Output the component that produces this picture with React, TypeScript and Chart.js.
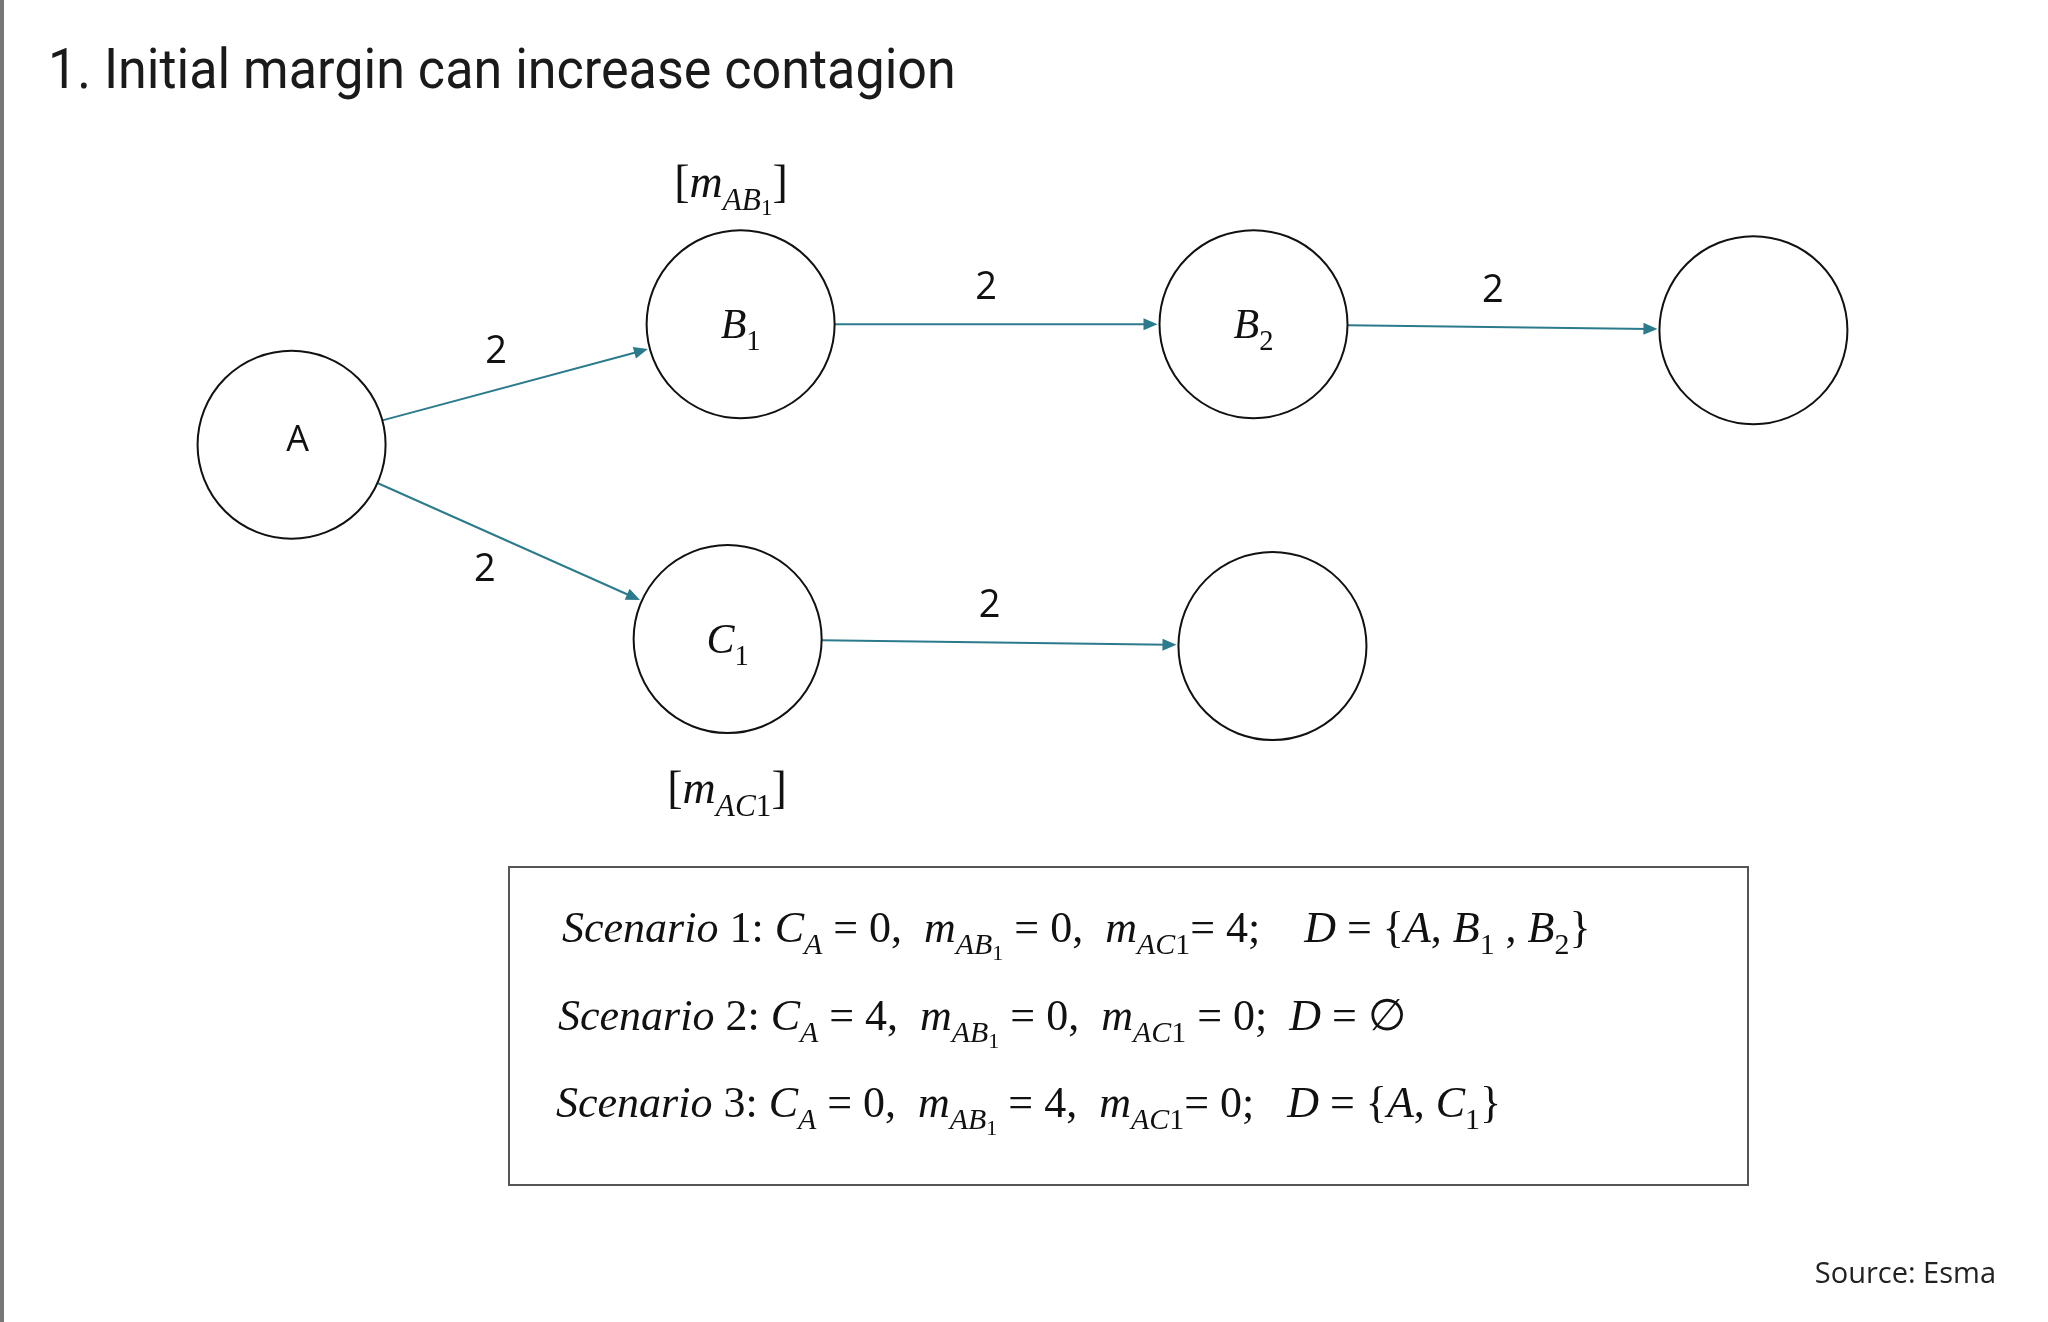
import React, { useEffect, useRef } from "react";
import { Chart, registerables } from "chart.js";
Chart.register(...registerables);

const nodeNames = ["A", "B1", "B2", "B3", "C1", "C2"];
const nodeX = [290, 740, 1254, 1755, 727, 1273];
const nodeY = [444, 323, 323, 329, 639, 646];
const nodeLabels = ["A", "B|1", "B|2", "", "C|1", ""];
const edgeFrom = [0, 1, 2, 0, 4];
const edgeTo = [1, 2, 3, 4, 5];
const edgeValues = ["2", "2", "2", "2", "2"];
const edgeSide = [1, 1, 1, -1, 1];
const title = "1. Initial margin can increase contagion";
const source = "Source: Esma";

type Seg = { t: string; l?: number; it?: boolean };
const I = (t: string, l = 0): Seg => ({ t, l, it: true });
const U = (t: string, l = 0): Seg => ({ t, l, it: false });
const scenarios: Seg[][] = [
  [I("Scenario "), U("1: "), I("C"), I("A", 1), U(" = 0,  "), I("m"), I("AB", 1), U("1", 2), U(" = 0,  "), I("m"), I("AC", 1), U("1", 1), U("= 4;    "), I("D"), U(" = {"), I("A"), U(", "), I("B"), U("1", 1), U(" , "), I("B"), U("2", 1), U("}")],
  [I("Scenario "), U("2: "), I("C"), I("A", 1), U(" = 4,  "), I("m"), I("AB", 1), U("1", 2), U(" = 0,  "), I("m"), I("AC", 1), U("1", 1), U(" = 0;  "), I("D"), U(" = ∅")],
  [I("Scenario "), U("3: "), I("C"), I("A", 1), U(" = 0,  "), I("m"), I("AB", 1), U("1", 2), U(" = 4,  "), I("m"), I("AC", 1), U("1", 1), U("= 0;   "), I("D"), U(" = {"), I("A"), U(", "), I("C"), U("1", 1), U("}")],
];
const marginTop: Seg[] = [U("["), I("m"), I("AB", 1), U("1", 2), U("]")];
const marginBottom: Seg[] = [U("["), I("m"), I("AC", 1), U("1", 1), U("]")];

const SERIF = '"Liberation Serif", "DejaVu Serif", serif';

function rich(ctx: CanvasRenderingContext2D, segs: Seg[], x: number, y: number, size: number, align: "left" | "center" = "left") {
  const sizes = [size, size * 0.68, size * 0.5];
  const offs = [0, size * 0.28, size * 0.4];
  let w = 0;
  for (const s of segs) {
    ctx.font = `${s.it ? "italic " : ""}${sizes[s.l || 0]}px ${SERIF}`;
    w += ctx.measureText(s.t).width;
  }
  let cx = align === "center" ? x - w / 2 : x;
  ctx.textAlign = "left";
  ctx.textBaseline = "alphabetic";
  for (const s of segs) {
    ctx.font = `${s.it ? "italic " : ""}${sizes[s.l || 0]}px ${SERIF}`;
    ctx.fillText(s.t, cx, y + offs[s.l || 0]);
    cx += ctx.measureText(s.t).width;
  }
}

export default function App() {
  const ref = useRef<HTMLCanvasElement>(null);
  useEffect(() => {
    document.body.style.margin = "0";
    const R = 94;
    const plugin = {
      id: "diagram",
      beforeDatasetsDraw(chart: any) {
        const ctx: CanvasRenderingContext2D = chart.ctx;
        const xs = chart.scales.x, ys = chart.scales.y;
        ctx.save();
        ctx.fillStyle = "#fff";
        ctx.fillRect(0, 0, chart.width, chart.height);
        ctx.fillStyle = "#777";
        ctx.fillRect(0, 0, 4, chart.height);
        ctx.fillStyle = "#1a1a1a";
        ctx.font = '56px Roboto';
        ctx.textAlign = "left";
        ctx.textBaseline = "alphabetic";
        ctx.save();
        ctx.translate(48, 88);
        ctx.scale(0.93, 1);
        ctx.fillText(title, 0, 0);
        ctx.restore();
        for (let i = 0; i < edgeFrom.length; i++) {
          const a = edgeFrom[i], b = edgeTo[i];
          const x1 = xs.getPixelForValue(nodeX[a]), y1 = ys.getPixelForValue(nodeY[a]);
          const x2 = xs.getPixelForValue(nodeX[b]), y2 = ys.getPixelForValue(nodeY[b]);
          const dx = x2 - x1, dy = y2 - y1, L = Math.hypot(dx, dy);
          const ux = dx / L, uy = dy / L;
          const sx = x1 + ux * R, sy = y1 + uy * R, ex = x2 - ux * (R + 2), ey = y2 - uy * (R + 2);
          ctx.strokeStyle = "#2b7b8c";
          ctx.fillStyle = "#2b7b8c";
          ctx.lineWidth = 2;
          ctx.beginPath(); ctx.moveTo(sx, sy); ctx.lineTo(ex - ux * 8, ey - uy * 8); ctx.stroke();
          ctx.beginPath();
          ctx.moveTo(ex, ey);
          ctx.lineTo(ex - ux * 14 - uy * 6, ey - uy * 14 + ux * 6);
          ctx.lineTo(ex - ux * 14 + uy * 6, ey - uy * 14 - ux * 6);
          ctx.closePath(); ctx.fill();
          const mx = (sx + ex) / 2, my = (sy + ey) / 2;
          const s = edgeSide[i];
          const nx = uy * s, ny = -ux * s;
          ctx.fillStyle = "#111";
          ctx.font = '38px "Open Sans"';
          ctx.textAlign = "center"; ctx.textBaseline = "middle";
          ctx.fillText(edgeValues[i], mx + nx * 36 - ux * 10, my + ny * 36 - uy * 10);
        }
        ctx.restore();
      },
      afterDatasetsDraw(chart: any) {
        const ctx: CanvasRenderingContext2D = chart.ctx;
        const xs = chart.scales.x, ys = chart.scales.y;
        ctx.save();
        ctx.fillStyle = "#111";
        for (let i = 0; i < nodeNames.length; i++) {
          const lab = nodeLabels[i];
          if (!lab) continue;
          const px = xs.getPixelForValue(nodeX[i]), py = ys.getPixelForValue(nodeY[i]);
          if (lab.includes("|")) {
            const [m, sub] = lab.split("|");
            rich(ctx, [I(m), U(sub, 1)], px, py + 14, 42, "center");
          } else {
            ctx.font = '36px "Open Sans"';
            ctx.textAlign = "center"; ctx.textBaseline = "middle";
            ctx.fillText(lab, px + 6, py - 4);
          }
        }
        rich(ctx, marginTop, 731, 197, 46, "center");
        rich(ctx, marginBottom, 727, 803, 46, "center");
        ctx.strokeStyle = "#555"; ctx.lineWidth = 2;
        ctx.strokeRect(509, 867, 1239, 318);
        const ys0 = [942, 1030, 1117];
        const xs0 = [562, 558, 556];
        scenarios.forEach((s, k) => rich(ctx, s, xs0[k], ys0[k], 44));
        ctx.fillStyle = "#222";
        ctx.font = '29px "Open Sans"';
        ctx.textAlign = "right"; ctx.textBaseline = "alphabetic";
        ctx.fillText(source, 1996, 1283);
        ctx.restore();
      },
    };
    const chart = new Chart(ref.current!, {
      type: "scatter",
      data: {
        labels: nodeNames,
        datasets: [{
          data: nodeX.map((x, i) => ({ x, y: nodeY[i] })),
          pointRadius: R,
          pointHoverRadius: R,
          pointBackgroundColor: "#fff",
          pointBorderColor: "#111",
          pointBorderWidth: 2,
          clip: false as any,
        }],
      },
      options: {
        animation: false,
        responsive: false,
        events: [],
        layout: { padding: 0 },
        plugins: { legend: { display: false }, tooltip: { enabled: false } },
        scales: {
          x: { type: "linear", min: 94, max: 1954, display: false },
          y: { type: "linear", min: 94, max: 1228, reverse: true, display: false },
        },
      },
      plugins: [plugin],
    });
    return () => chart.destroy();
  }, []);
  return <canvas ref={ref} width={2048} height={1322} style={{ display: "block" }} />;
}
